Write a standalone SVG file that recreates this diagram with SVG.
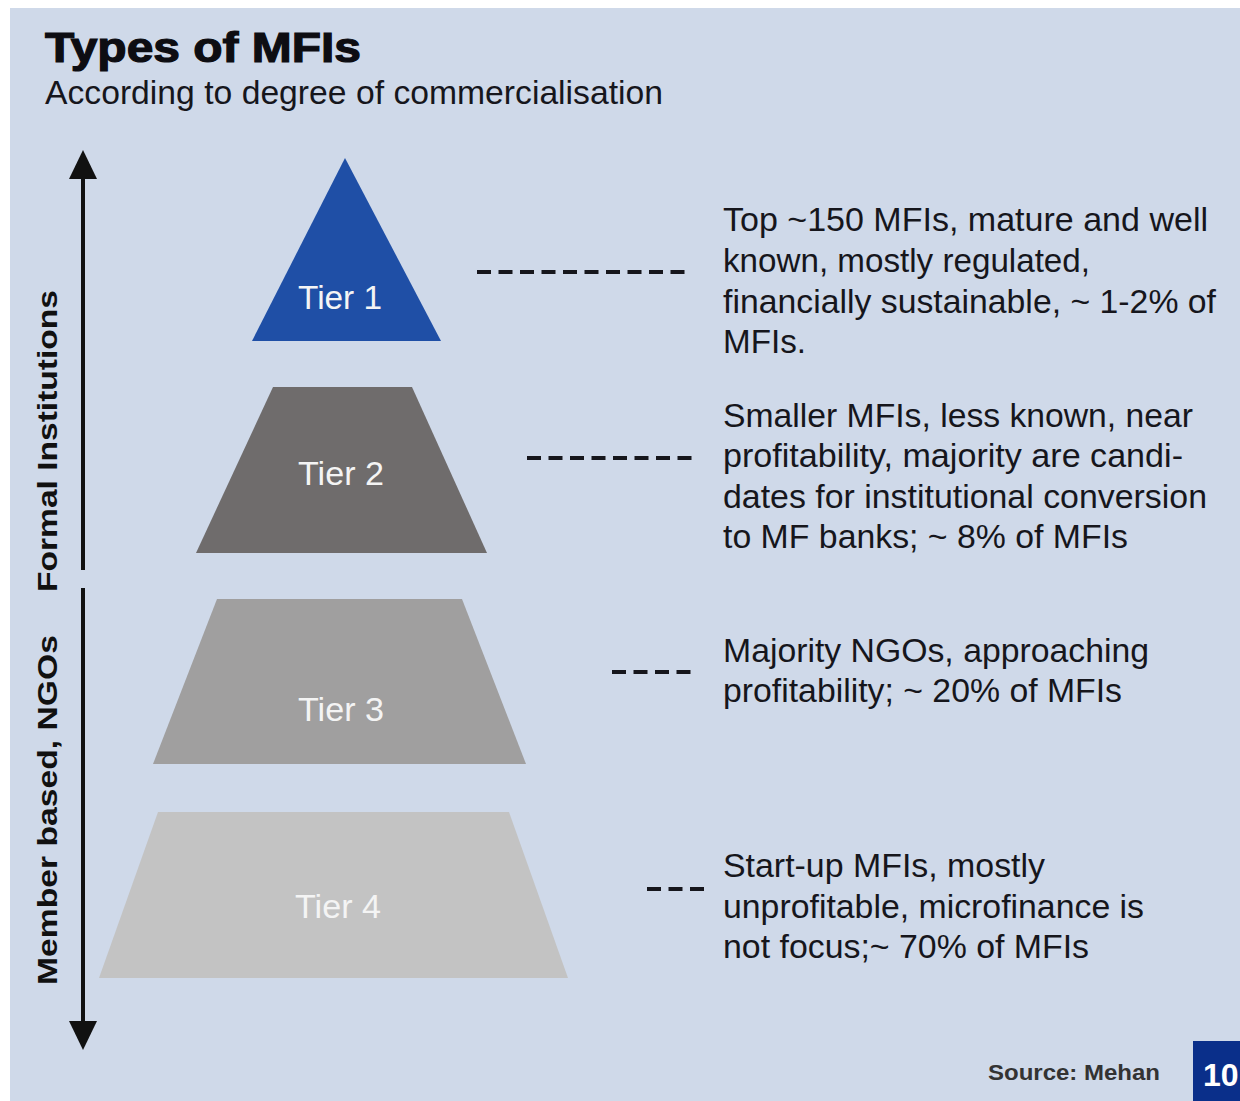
<svg xmlns="http://www.w3.org/2000/svg" width="1240" height="1101" viewBox="0 0 1240 1101">
<defs>
<style>
.t{font-family:"Liberation Sans",Arial,sans-serif;fill:#16161c;font-size:33px}
.tier{font-family:"Liberation Sans",Arial,sans-serif;fill:#f4f4f4;font-size:33px;text-anchor:middle}
.side{font-family:"Liberation Sans",Arial,sans-serif;font-weight:bold;fill:#111;font-size:28px}
.dash{stroke:#16161c;stroke-width:4;stroke-dasharray:14 7.5;fill:none}
.axis{stroke:#111;stroke-width:4;fill:none}
</style>
</defs>
<rect x="0" y="0" width="1240" height="1101" fill="#ffffff"/>
<rect x="10" y="8" width="1230" height="1093" fill="#cfd9e9"/>

<g id="title">
<text x="45" y="62" font-family="Liberation Sans, Arial, sans-serif" font-weight="bold" font-size="42" fill="#0d0d12" stroke="#0d0d12" stroke-width="1.2" textLength="316" lengthAdjust="spacingAndGlyphs">Types of MFIs</text>
<text x="45" y="104" class="t" font-size="34" textLength="618" lengthAdjust="spacingAndGlyphs">According to degree of commercialisation</text>
</g>

<g id="axis">
<line class="axis" x1="83" y1="175" x2="83" y2="570"/>
<polygon points="83,150 69,179 97,179" fill="#111"/>
<line class="axis" x1="83" y1="588" x2="83" y2="1025"/>
<polygon points="83,1050 69,1021 97,1021" fill="#111"/>
<text class="side" transform="translate(57,592) rotate(-90)" textLength="302" lengthAdjust="spacingAndGlyphs">Formal Institutions</text>
<text class="side" transform="translate(57,985) rotate(-90)" textLength="350" lengthAdjust="spacingAndGlyphs">Member based, NGOs</text>
</g>

<g id="tier1">
<polygon points="345,158 441,341 252,341" fill="#1f4fa6"/>
<text class="tier" x="340" y="309" textLength="84" lengthAdjust="spacingAndGlyphs">Tier 1</text>
</g>
<g id="tier2">
<polygon points="273,387 412,387 487,553 196,553" fill="#6f6c6c"/>
<text class="tier" x="341" y="485" textLength="86" lengthAdjust="spacingAndGlyphs">Tier 2</text>
</g>
<g id="tier3">
<polygon points="217,599 462,599 526,764 153,764" fill="#a09f9f"/>
<text class="tier" x="341" y="721" textLength="86" lengthAdjust="spacingAndGlyphs">Tier 3</text>
</g>
<g id="tier4">
<polygon points="158,812 509,812 568,978 99,978" fill="#c3c3c3"/>
<text class="tier" x="338" y="918" fill="#f0f0f0" textLength="86" lengthAdjust="spacingAndGlyphs">Tier 4</text>
</g>

<g id="connectors">
<line class="dash" x1="477" y1="272" x2="692" y2="272"/>
<line class="dash" x1="527" y1="458" x2="699" y2="458"/>
<line class="dash" x1="612" y1="672" x2="697" y2="672"/>
<line class="dash" x1="647" y1="889" x2="705" y2="889"/>
</g>

<g id="desc1">
<text class="t" x="723" y="231" textLength="485" lengthAdjust="spacingAndGlyphs">Top ~150 MFIs, mature and well</text>
<text class="t" x="723" y="272" textLength="367" lengthAdjust="spacingAndGlyphs">known, mostly regulated,</text>
<text class="t" x="723" y="313" textLength="493" lengthAdjust="spacingAndGlyphs">financially sustainable, ~ 1-2% of</text>
<text class="t" x="723" y="353" textLength="83" lengthAdjust="spacingAndGlyphs">MFIs.</text>
</g>
<g id="desc2">
<text class="t" x="723" y="427" textLength="470" lengthAdjust="spacingAndGlyphs">Smaller MFIs, less known, near</text>
<text class="t" x="723" y="467" textLength="460" lengthAdjust="spacingAndGlyphs">profitability, majority are candi-</text>
<text class="t" x="723" y="508" textLength="484" lengthAdjust="spacingAndGlyphs">dates for institutional conversion</text>
<text class="t" x="723" y="548" textLength="405" lengthAdjust="spacingAndGlyphs">to MF banks; ~ 8% of MFIs</text>
</g>
<g id="desc3">
<text class="t" x="723" y="662" textLength="426" lengthAdjust="spacingAndGlyphs">Majority NGOs, approaching</text>
<text class="t" x="723" y="702" textLength="399" lengthAdjust="spacingAndGlyphs">profitability; ~ 20% of MFIs</text>
</g>
<g id="desc4">
<text class="t" x="723" y="877" textLength="322" lengthAdjust="spacingAndGlyphs">Start-up MFIs, mostly</text>
<text class="t" x="723" y="918" textLength="421" lengthAdjust="spacingAndGlyphs">unprofitable, microfinance is</text>
<text class="t" x="723" y="958" textLength="366" lengthAdjust="spacingAndGlyphs">not focus;~ 70% of MFIs</text>
</g>

<g id="footer">
<text x="988" y="1080" font-family="Liberation Sans, Arial, sans-serif" font-weight="bold" font-size="22" fill="#333" textLength="172" lengthAdjust="spacingAndGlyphs">Source: Mehan</text>
<rect x="1193" y="1041" width="47" height="60" fill="#0a2f8a"/>
<text x="1203" y="1086" font-family="Liberation Sans, Arial, sans-serif" font-weight="bold" font-size="32" fill="#ffffff">10</text>
</g>
</svg>
